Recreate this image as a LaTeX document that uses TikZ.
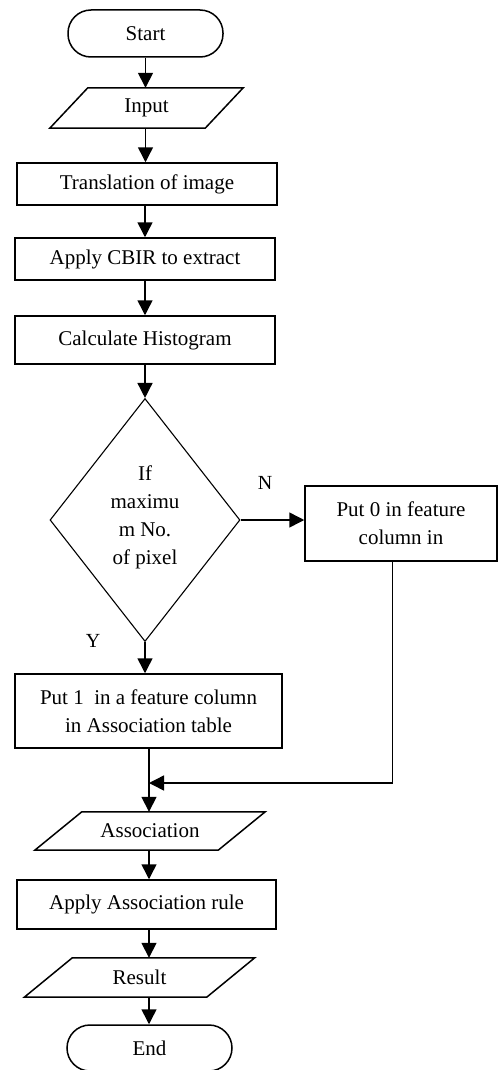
\documentclass[tikz,border=0pt]{standalone}
\usepackage{fontspec}
\setmainfont{Liberation Serif}
\usetikzlibrary{shapes.geometric,arrows.meta,calc}
\begin{document}
\begin{tikzpicture}[x=1pt,y=-1pt,
  every node/.style={font=\fontsize{21}{28}\selectfont, inner sep=0pt, align=center},
  ln/.style={line width=1.5pt, draw=black},
  arr/.style={ln, -{Triangle[width=15pt,length=15pt]}},
  boxx/.style={ln, rectangle},
  term/.style={ln, rectangle, rounded corners=23pt},
  parabox/.style={rectangle},
  lbl/.style={font=\fontsize{20}{24}\selectfont}
]
\useasboundingbox (0,0) rectangle (500,1070);
\fill[white] (0,0) rectangle (500,1070);

% terminators and boxes
\node[term, minimum width=155pt, minimum height=47pt] (start) at (145.5,33.5) {Start};
\node[parabox, minimum width=155pt, minimum height=40pt] (inp) at (146.5,108) {Input};
\draw[ln] ($(inp.north west)+(19,0)$) -- ($(inp.north east)+(19,0)$) -- ($(inp.south east)+(-19,0)$) -- ($(inp.south west)+(-19,0)$) -- cycle;
\node[boxx, minimum width=260pt, minimum height=42pt] (trans) at (147,184) {Translation of image};
\node[boxx, minimum width=260pt, minimum height=42pt] (cbir) at (145,259) {Apply CBIR to extract};
\node[boxx, minimum width=260pt, minimum height=48pt] (hist) at (145,340) {Calculate Histogram};
\node[draw=black, line width=1.1pt, diamond, minimum width=190pt, minimum height=243pt] (dec) at (145,520) {};
\node (dectext) at (145,517) {If\\maximu\\m No.\\of pixel};
\node[boxx, minimum width=192pt, minimum height=75pt] (put0) at (401,523.5) {Put 0 in feature\\column in};
\node[boxx, minimum width=267pt, minimum height=74pt] (put1) at (148.5,711) {Put 1\ \ in a feature column\\in Association table};
\node[parabox, minimum width=183pt, minimum height=38pt] (assoc) at (150,831) {Association};
\draw[ln] ($(assoc.north west)+(23.5,0)$) -- ($(assoc.north east)+(23.5,0)$) -- ($(assoc.south east)+(-23.5,0)$) -- ($(assoc.south west)+(-23.5,0)$) -- cycle;
\node[boxx, minimum width=259pt, minimum height=49pt] (rule) at (146.5,904.5) {Apply Association rule};
\node[parabox, minimum width=182pt, minimum height=39pt] (res) at (139.5,977.5) {Result};
\draw[ln] ($(res.north west)+(24,0)$) -- ($(res.north east)+(24,0)$) -- ($(res.south east)+(-24,0)$) -- ($(res.south west)+(-24,0)$) -- cycle;
\node[term, minimum width=165pt, minimum height=46pt] (fin) at (149.5,1048) {End};

% labels
\node[lbl] (nlab) at (265,483) {N};
\node[lbl] (ylab) at (93,641) {Y};

% connectors
\draw[arr] (start.south) -- (start.south |- inp.north);
\draw[arr] (start.south |- inp.south) -- (start.south |- trans.north);
\draw[arr] (cbir.north |- trans.south) -- (cbir.north);
\draw[arr] (cbir.south) -- (hist.north);
\draw[arr] (hist.south) -- (dec.north);
\draw[arr] (dec.east) -- (dec.east -| put0.west);
\draw[arr] (dec.south) -- (dec.south |- put1.north);
\coordinate (tap) at ($(put0.south west)!0.455!(put0.south east)$);
\coordinate (mrg) at (149,783);
\draw[ln] (149,748) -- (149,783);
\draw[arr] (mrg) -- (mrg |- assoc.north);
\draw[ln] (tap) -- (tap |- mrg) -- ($(mrg)+(13,0)$);
\draw[arr] (tap |- mrg) -- (mrg);
\draw[arr] (mrg |- assoc.south) -- (mrg |- rule.north);
\draw[arr] (mrg |- rule.south) -- (mrg |- res.north);
\draw[arr] (mrg |- res.south) -- (mrg |- fin.north);
\end{tikzpicture}
\end{document}
